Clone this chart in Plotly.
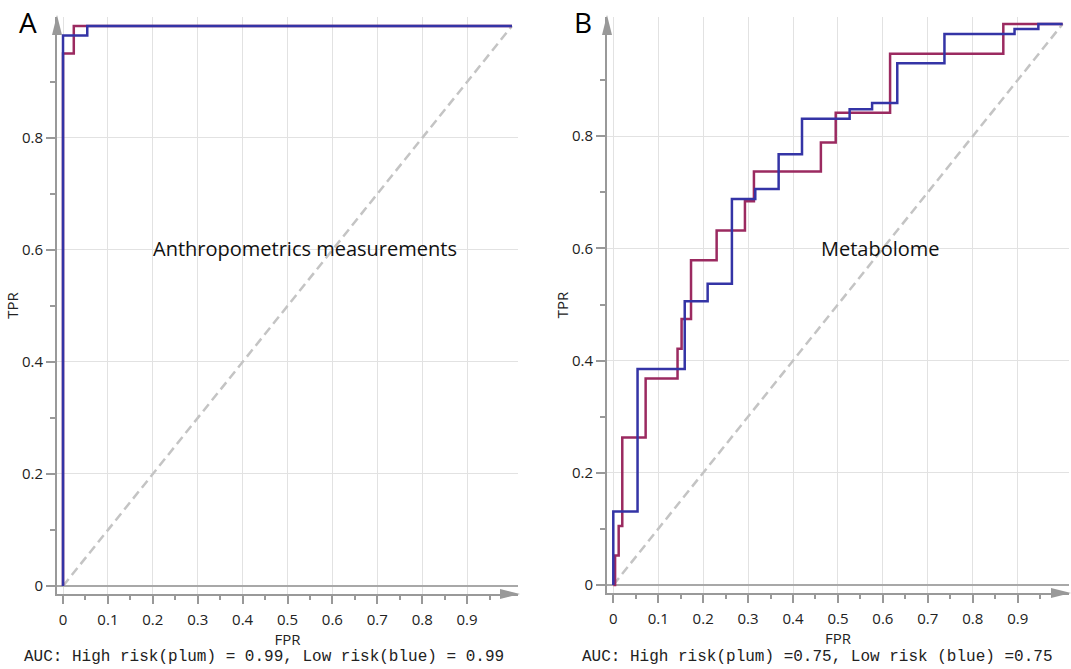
import plotly.graph_objects as go

# ---- Panel A: anthropometrics measurements ----
a_plum_fpr = [0, 0, 0.024, 1.0]
a_plum_tpr = [0, 0.951, 1.0, 1.0]
a_blue_fpr = [0, 0, 0.054, 1.0]
a_blue_tpr = [0, 0.983, 1.0, 1.0]

# ---- Panel B: metabolome ----
b_plum_fpr = [0, 0.004, 0.012, 0.02, 0.072, 0.143, 0.152, 0.173, 0.23, 0.293,
              0.313, 0.462, 0.495, 0.616, 0.868, 1.0]
b_plum_tpr = [0, 0.0526, 0.105, 0.263, 0.368, 0.421, 0.474, 0.579, 0.632, 0.684,
              0.737, 0.789, 0.842, 0.947, 1.0, 1.0]
b_blue_fpr = [0, 0, 0.054, 0.159, 0.21, 0.264, 0.316, 0.368, 0.42, 0.526,
              0.576, 0.632, 0.737, 0.893, 0.946, 1.0]
b_blue_tpr = [0, 0.131, 0.385, 0.506, 0.537, 0.688, 0.706, 0.768, 0.831, 0.848,
              0.859, 0.930, 0.982, 0.991, 1.0, 1.0]

chance = [0, 1]

x_ticks = [0, 0.1, 0.2, 0.3, 0.4, 0.5, 0.6, 0.7, 0.8, 0.9]
x_minor = [0.05, 0.15, 0.25, 0.35, 0.45, 0.55, 0.65, 0.75, 0.85, 0.95]
y_ticks = [0, 0.2, 0.4, 0.6, 0.8]
y_minor = [0.1, 0.3, 0.5, 0.7, 0.9]

panel_titles = ["Anthropometrics measurements", "Metabolome"]
auc_texts = ["AUC: High risk(plum) = 0.99, Low risk(blue) = 0.99",
             "AUC: High risk(plum) =0.75, Low risk (blue) =0.75"]

PLUM = "#9b2a60"
BLUE = "#3434a6"
AXIS = "#999999"
GRID = "#e2e2e2"
TEXT = "#222222"
W, H = 1071, 669

fig = go.Figure()

panels = [
    ("x", "y", a_plum_fpr, a_plum_tpr, a_blue_fpr, a_blue_tpr),
    ("x2", "y2", b_plum_fpr, b_plum_tpr, b_blue_fpr, b_blue_tpr),
]
for xa, ya, pf, pt, bf, bt in panels:
    fig.add_trace(go.Scatter(x=chance, y=chance, xaxis=xa, yaxis=ya, mode="lines",
                             line=dict(color="#c4c4c4", width=2.5, dash="9px,5px"),
                             hoverinfo="skip"))
    fig.add_trace(go.Scatter(x=pf, y=pt, xaxis=xa, yaxis=ya, mode="lines",
                             line=dict(color=PLUM, width=2.5, shape="hv")))
    fig.add_trace(go.Scatter(x=bf, y=bt, xaxis=xa, yaxis=ya, mode="lines",
                             line=dict(color=BLUE, width=2.5, shape="hv")))

# plot areas in pixels: (left, right, top, bottom)
areas = [(57, 518, 17, 594), (607, 1069, 17, 593)]
xranges = [[-0.0134, 1.0134], [-0.014, 1.0142]]
yranges = [[-0.0143, 1.0160], [-0.0143, 1.0125]]

tick_font = dict(family="Open Sans", size=15, color=TEXT)
title_font = dict(family="Open Sans", size=15, color=TEXT)

for i, (l, r, t, b) in enumerate(areas):
    sfx = "" if i == 0 else "2"
    xdom = [l / W, r / W]
    ydom = [1 - b / H, 1 - t / H]
    fig.update_layout(**{
        "xaxis" + sfx: dict(
            domain=xdom, range=xranges[i], anchor="y" + sfx, automargin=False,
            tickmode="array", tickvals=x_ticks, ticks="outside", ticklen=8,
            tickcolor=AXIS, tickwidth=1.5, showline=True, linecolor=AXIS,
            linewidth=2, showgrid=True, gridcolor=GRID, gridwidth=1,
            zeroline=False, tickfont=tick_font, ticklabelstandoff=3,
            title=dict(text="FPR", font=title_font, standoff=0),
            minor=dict(tickmode="array", tickvals=x_minor, ticks="outside",
                       ticklen=4, tickcolor=AXIS, tickwidth=1.5, showgrid=False),
        ),
        "yaxis" + sfx: dict(
            domain=ydom, range=yranges[i], anchor="x" + sfx, automargin=False,
            tickmode="array", tickvals=y_ticks, ticks="outside", ticklen=9,
            tickcolor=AXIS, tickwidth=1.5, showline=True, linecolor=AXIS,
            linewidth=2, showgrid=True, gridcolor=GRID, gridwidth=1,
            zeroline=True, zerolinecolor="#a8a8a8", zerolinewidth=1.5,
            tickfont=tick_font,
            title=dict(text="TPR", font=title_font, standoff=0),
            minor=dict(tickmode="array", tickvals=y_minor, ticks="outside",
                       ticklen=5, tickcolor=AXIS, tickwidth=1.5, showgrid=False),
        ),
    })
    # arrowheads at the end of each axis line
    fig.add_shape(type="path", xref="paper", yref="paper",
                  xsizemode="pixel", ysizemode="pixel",
                  xanchor=r / W, yanchor=1 - b / H,
                  path="M 2,0 L -18,5 L -18,-5 Z",
                  fillcolor=AXIS, line=dict(width=0))
    fig.add_shape(type="path", xref="paper", yref="paper",
                  xsizemode="pixel", ysizemode="pixel",
                  xanchor=l / W, yanchor=1 - t / H,
                  path="M 0,2 L -5,-18 L 5,-18 Z",
                  fillcolor=AXIS, line=dict(width=0))

# panel letters
for letter, px in (("A", 28), ("B", 583)):
    fig.add_annotation(text=letter, xref="paper", yref="paper", x=px / W, y=1 - 22 / H,
                       showarrow=False, font=dict(family="Open Sans", size=28, color="#000000"),
                       xanchor="center", yanchor="middle")

# panel captions
for txt, px in zip(panel_titles, (305, 880)):
    fig.add_annotation(text=txt, xref="paper", yref="paper", x=px / W, y=1 - 248 / H,
                       showarrow=False, font=dict(family="Open Sans", size=20, color="#111111"),
                       xanchor="center", yanchor="middle")

# AUC summaries
for txt, px in zip(auc_texts, (264, 817)):
    fig.add_annotation(text=txt, xref="paper", yref="paper", x=px / W, y=1 - 657 / H,
                       showarrow=False,
                       font=dict(family="Liberation Mono", size=16, color=TEXT),
                       xanchor="center", yanchor="middle")

fig.update_layout(width=W, height=H, margin=dict(l=0, r=0, t=0, b=0),
                  font=dict(family="Open Sans", size=15, color=TEXT),
                  paper_bgcolor="white", plot_bgcolor="white", showlegend=False)

fig.write_html("out.html")
